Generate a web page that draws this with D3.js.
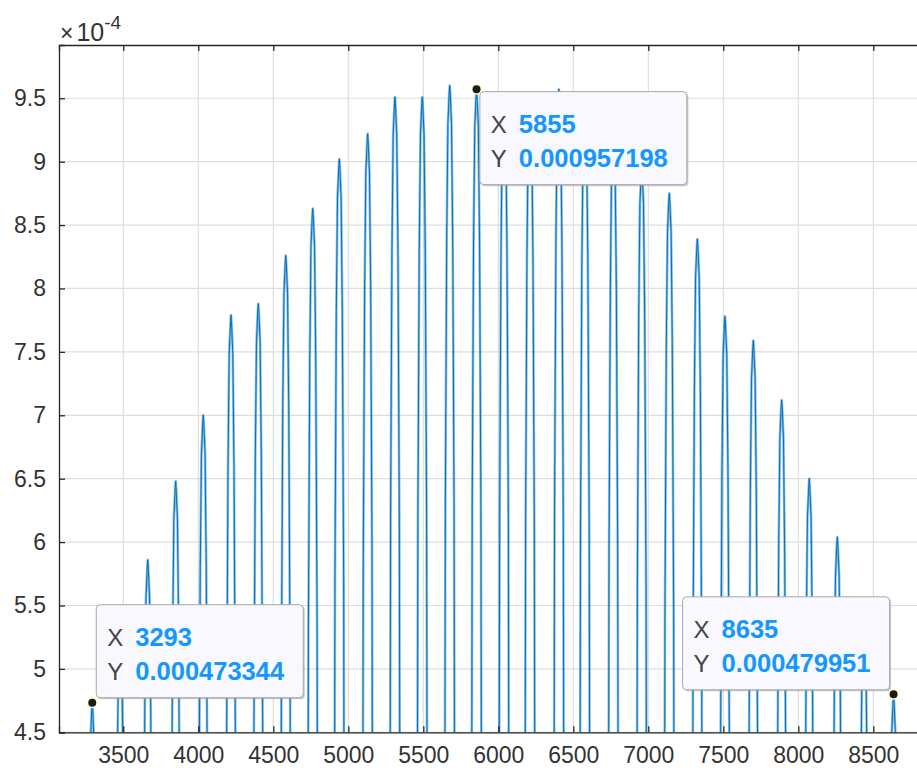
<!DOCTYPE html>
<html>
<head>
<meta charset="utf-8">
<script src="https://cdn.jsdelivr.net/npm/d3@7"></script>
<style>
  html, body { margin: 0; padding: 0; background: #fff; }
  svg { display: block; }
  text { font-family: "Liberation Sans", Arial, Helvetica, sans-serif; }
</style>
</head>
<body>
<svg id="chart" width="917" height="774"></svg>
<script>
// ---------------- data ----------------
const peakX = [3293, 3479, 3663, 3849, 4033, 4218, 4400, 4583, 4763, 4940,
               5129, 5311, 5493, 5676, 5855, 6038, 6211, 6404, 6577, 6767,
               6956, 7140, 7327, 7511, 7700, 7889, 8073, 8260, 8438, 8635];
const peakY = [4.73344, 5.30, 5.86, 6.48, 7.00, 7.79, 7.88, 8.26, 8.63, 9.02,
               9.22, 9.51, 9.51, 9.60, 9.57198, 9.50, 9.45, 9.57, 9.40, 9.20,
               8.97, 8.75, 8.39, 7.78, 7.59, 7.12, 6.50, 6.04, 5.45, 4.79951]; // x 1e-4
// spike profile: depth below peak (x1e-4) and half width (x units)
const spikeDepth = [0, 0.05, 0.3, 1.2, 3.3, 6.0];
const spikeHalfWidth = [0, 3, 12, 20, 29, 33];

const xTicks = [3500, 4000, 4500, 5000, 5500, 6000, 6500, 7000, 7500, 8000, 8500];
const yTicks = [4.5, 5, 5.5, 6, 6.5, 7, 7.5, 8, 8.5, 9, 9.5];
const yTickLabels = ["4.5", "5", "5.5", "6", "6.5", "7", "7.5", "8", "8.5", "9", "9.5"];
const yExponent = "-4";

const tipX = [3293, 5855, 8635];
const tipY = [0.000473344, 0.000957198, 0.000479951];
const tipLabelX = ["3293", "5855", "8635"];
const tipLabelY = ["0.000473344", "0.000957198", "0.000479951"];

// ---------------- layout ----------------
const svg = d3.select("#chart");
const pL = 59, pT = 45, pB = 732.3, pR = 930;
const x = d3.scaleLinear().domain([3071.3, 8877.9]).range([pL, pR]);
const y = d3.scaleLinear().domain([4.5e-4, 9.92e-4]).range([pB, pT]);
const axisColor = "#262626";
const blue = "#0072BD";

// grid
const grid = svg.append("g");
grid.selectAll("line.gx").data(xTicks).join("line")
  .attr("x1", d => x(d)).attr("x2", d => x(d))
  .attr("y1", pT).attr("y2", pB)
  .attr("stroke", "#dedede").attr("stroke-width", 1.2);
grid.selectAll("line.gy").data(yTicks).join("line")
  .attr("x1", pL).attr("x2", pR)
  .attr("y1", d => y(d * 1e-4)).attr("y2", d => y(d * 1e-4))
  .attr("stroke", "#dedede").attr("stroke-width", 1.2);

// series
const pts = [];
peakX.forEach((px, i) => {
  const py = peakY[i] * 1e-4;
  for (let k = spikeDepth.length - 1; k >= 0; k--)
    pts.push([px - spikeHalfWidth[k], py - spikeDepth[k] * 1e-4]);
  for (let k = 1; k < spikeDepth.length; k++)
    pts.push([px + spikeHalfWidth[k], py - spikeDepth[k] * 1e-4]);
});
svg.append("clipPath").attr("id", "clip").append("rect")
  .attr("x", pL).attr("y", pT).attr("width", pR - pL).attr("height", pB - pT);
const line = d3.line().x(d => x(d[0])).y(d => y(d[1]));
const g = svg.append("g").attr("clip-path", "url(#clip)");
g.append("path").attr("d", line(pts)).attr("fill", "none")
  .attr("stroke", blue).attr("stroke-opacity", 0.45).attr("stroke-width", 2.6)
  .attr("stroke-linejoin", "round");
g.append("path").attr("d", line(pts)).attr("fill", "none")
  .attr("stroke", blue).attr("stroke-width", 1);

// axes
const xAxisB = d3.axisBottom(x).tickValues(xTicks).tickSize(-6).tickPadding(14).tickFormat(d3.format("d"));
const xAxisT = d3.axisTop(x).tickValues(xTicks).tickSize(-6).tickFormat("");
const yAxisL = d3.axisLeft(y).tickValues(yTicks.map(v => v * 1e-4)).tickSize(-6).tickPadding(13)
  .tickFormat((d, i) => yTickLabels[i]);

function style(sel) {
  sel.select(".domain").attr("stroke", axisColor).attr("stroke-width", 1.3);
  sel.selectAll(".tick line").attr("stroke", axisColor).attr("stroke-width", 1.3);
  sel.selectAll(".tick text").attr("fill", "#333").attr("font-size", 23)
    .attr("font-family", "'Liberation Sans', Arial, sans-serif");
}
svg.append("g").attr("transform", `translate(0,${pB})`).call(xAxisB).call(style);
svg.append("g").attr("transform", `translate(0,${pT})`).call(xAxisT).call(style);
svg.append("g").attr("transform", `translate(${pL},0)`).call(yAxisL).call(style);

// exponent label
const ex = svg.append("text").attr("x", 60).attr("y", 41).attr("fill", "#333")
  .attr("font-size", 25);
ex.append("tspan").text("\u00d7").attr("font-size", 23);
ex.append("tspan").text("10").attr("dx", 3);
ex.append("tspan").text(yExponent).attr("dy", -12).attr("font-size", 19);

// data tips
const tipOffsets = [[4, -98], [3.3, 2.5], [-211, -97.5]];
const tips = svg.append("g");
tipX.forEach((tx, i) => {
  const mx = x(tx), my = y(tipY[i]);
  const bx = mx + tipOffsets[i][0], by = my + tipOffsets[i][1];
  const t = tips.append("g");
  t.append("rect").attr("x", bx + 1.5).attr("y", by + 1.5).attr("width", 207).attr("height", 93)
    .attr("rx", 4).attr("fill", "#9a9a9a").attr("opacity", 0.55);
  t.append("rect").attr("x", bx).attr("y", by).attr("width", 207).attr("height", 93)
    .attr("rx", 4).attr("fill", "#f8f8fe").attr("stroke", "#a8a8a8").attr("stroke-width", 1);
  const l1 = t.append("text").attr("x", bx + 11).attr("y", by + 41).attr("font-size", 24);
  l1.append("tspan").text("X").attr("fill", "#444");
  l1.append("tspan").text(tipLabelX[i]).attr("x", bx + 39).attr("fill", "#1497ff")
    .attr("font-weight", "bold").attr("font-size", 25.5);
  const l2 = t.append("text").attr("x", bx + 11).attr("y", by + 75).attr("font-size", 24);
  l2.append("tspan").text("Y").attr("fill", "#444");
  l2.append("tspan").text(tipLabelY[i]).attr("x", bx + 39).attr("fill", "#1497ff")
    .attr("font-weight", "bold").attr("font-size", 25.5);
  t.append("circle").attr("cx", mx).attr("cy", my).attr("r", 5.5).attr("fill", "#ffffc8");
  t.append("circle").attr("cx", mx).attr("cy", my).attr("r", 4).attr("fill", "#1a1a1a");
});
</script>
</body>
</html>
